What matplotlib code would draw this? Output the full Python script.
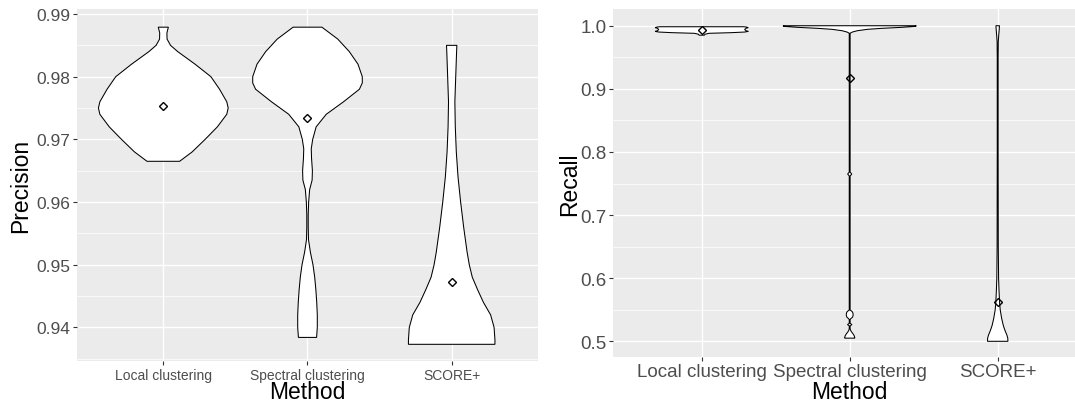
import matplotlib
matplotlib.use("Agg")
import matplotlib.pyplot as plt
import numpy as np

plt.rcParams["font.family"] = ["Liberation Sans", "DejaVu Sans"]

# ---------------- data ----------------
methods = ["Local clustering", "Spectral clustering", "SCORE+"]

# Precision violins: y levels and half-widths (category units)
prec_local_y = [0.9665, 0.968, 0.970, 0.972, 0.974, 0.975, 0.976, 0.978, 0.980, 0.982, 0.984, 0.985, 0.986, 0.987, 0.9879]
prec_local_w = [0.113, 0.20, 0.29, 0.375, 0.44, 0.45, 0.44, 0.39, 0.33, 0.22, 0.10, 0.05, 0.026, 0.025, 0.035]

prec_spec_y = [0.9384, 0.940, 0.942, 0.944, 0.946, 0.948, 0.950, 0.952, 0.954, 0.956, 0.958, 0.960, 0.962,
               0.9635, 0.965, 0.967, 0.9685, 0.970, 0.972, 0.974, 0.976, 0.978, 0.979, 0.980, 0.982, 0.984, 0.986, 0.9879]
prec_spec_w = [0.063, 0.068, 0.068, 0.064, 0.058, 0.050, 0.038, 0.020, 0.007, 0.005, 0.005, 0.008, 0.015,
               0.032, 0.034, 0.028, 0.026, 0.036, 0.06, 0.13, 0.25, 0.36, 0.38, 0.38, 0.35, 0.29, 0.21, 0.10]

prec_score_y = [0.9373, 0.938, 0.940, 0.942, 0.944, 0.946, 0.948, 0.950, 0.952, 0.956, 0.960, 0.964, 0.968,
                0.972, 0.976, 0.980, 0.984, 0.985]
prec_score_w = [0.30, 0.30, 0.294, 0.27, 0.22, 0.18, 0.143, 0.122, 0.107, 0.083, 0.062, 0.044, 0.032,
                0.025, 0.022, 0.028, 0.034, 0.036]

prec_means = [0.9754, 0.9734, 0.9472]

# Recall violins
rec_local_y = [0.985, 0.9865, 0.988, 0.989, 0.990, 0.991, 0.992, 0.994, 0.996, 0.997, 0.998, 0.9984]
rec_local_w = [0.018, 0.022, 0.05, 0.2, 0.29, 0.315, 0.30, 0.29, 0.30, 0.315, 0.30, 0.28]

rec_spec_y = [0.505, 0.506, 0.509, 0.512, 0.515, 0.518, 0.5205, 0.5245, 0.5265, 0.5285, 0.531, 0.5345,
              0.536, 0.538, 0.540, 0.543, 0.546, 0.548, 0.5495, 0.552, 0.762, 0.765, 0.768, 0.988,
              0.9884, 0.990, 0.9921, 0.9943, 0.9959, 0.9975, 0.999, 1.0]
rec_spec_w = [0.034, 0.034, 0.030, 0.022, 0.012, 0.005, 0.003, 0.003, 0.015, 0.003, 0.003, 0.003,
              0.008, 0.018, 0.022, 0.023, 0.020, 0.012, 0.003, 0.003, 0.003, 0.014, 0.003, 0.003,
              0.005, 0.018, 0.052, 0.12, 0.22, 0.356, 0.446, 0.45]

rec_score_y = [0.5, 0.505, 0.51, 0.515, 0.52, 0.525, 0.53, 0.535, 0.54, 0.55, 0.56, 0.57, 0.58, 0.60,
               0.65, 0.80, 0.95, 0.975, 0.985, 0.993, 1.0]
rec_score_w = [0.069, 0.068, 0.062, 0.053, 0.045, 0.038, 0.033, 0.028, 0.024, 0.017, 0.013, 0.011, 0.009,
               0.006, 0.004, 0.003, 0.003, 0.004, 0.007, 0.010, 0.012]

rec_means = [0.9937, 0.9166, 0.5625]

prec_ticks = [0.94, 0.95, 0.96, 0.97, 0.98, 0.99]
prec_tick_labels = ["0.94", "0.95", "0.96", "0.97", "0.98", "0.99"]
rec_ticks = [0.5, 0.6, 0.7, 0.8, 0.9, 1.0]
rec_tick_labels = ["0.5", "0.6", "0.7", "0.8", "0.9", "1.0"]

# ---------------- figure ----------------
W, H = 1075, 406
fig = plt.figure(figsize=(W / 100, H / 100), dpi=100)

BG = "#EBEBEB"
TXT = "#4D4D4D"


def px_axes(x0, x1, ytop, ybot):
    return fig.add_axes([x0 / W, 1 - ybot / H, (x1 - x0) / W, (ybot - ytop) / H])


def violin(ax, cx, ys, ws):
    ys = np.asarray(ys)
    ws = np.asarray(ws)
    xs = np.concatenate([cx - ws, (cx + ws)[::-1]])
    yy = np.concatenate([ys, ys[::-1]])
    ax.fill(xs, yy, facecolor="white", edgecolor="black", linewidth=0.75, zorder=3)


def style(ax, yticks, ylabels, ylim, xfont, yfont):
    ax.set_facecolor(BG)
    for s in ax.spines.values():
        s.set_visible(False)
    ax.set_xlim(0.4, 3.6)
    ax.set_ylim(*ylim)
    ax.set_xticks([1, 2, 3])
    ax.set_xticklabels(methods, fontsize=xfont, color=TXT)
    ax.set_yticks(yticks)
    ax.set_yticklabels(ylabels, fontsize=yfont, color=TXT)
    minors = [(a + b) / 2 for a, b in zip(yticks[:-1], yticks[1:])]
    step = yticks[1] - yticks[0]
    minors = [yticks[0] - step / 2] + minors + [yticks[-1] + step / 2]
    minors = [m for m in minors if ylim[0] <= m <= ylim[1]]
    ax.set_yticks(minors, minor=True)
    ax.tick_params(which="minor", length=0)
    ax.tick_params(which="major", length=3.0, width=0.8, color="#333333", pad=1.5)
    ax.grid(which="major", color="white", linewidth=1.0)
    ax.grid(which="minor", axis="y", color="white", linewidth=0.5)
    ax.set_axisbelow(True)


# Left panel: Precision
ax1 = px_axes(76.8, 538.2, 10, 362.3)
style(ax1, prec_ticks, prec_tick_labels, (0.93459, 0.9908), 10, 12.5)
violin(ax1, 1, prec_local_y, prec_local_w)
violin(ax1, 2, prec_spec_y, prec_spec_w)
violin(ax1, 3, prec_score_y, prec_score_w)
ax1.plot([1, 2, 3], prec_means, linestyle="none", marker="D", markersize=4.2,
         markerfacecolor="none", markeredgecolor="black", markeredgewidth=1.0, zorder=4)

# Right panel: Recall
ax2 = px_axes(612.9, 1086.5, 10, 357.7)
style(ax2, rec_ticks, rec_tick_labels, (0.4756, 1.0265), 13.5, 13.5)
violin(ax2, 1, rec_local_y, rec_local_w)
violin(ax2, 2, rec_spec_y, rec_spec_w)
violin(ax2, 3, rec_score_y, rec_score_w)
ax2.plot([1, 2, 3], rec_means, linestyle="none", marker="D", markersize=4.2,
         markerfacecolor="none", markeredgecolor="black", markeredgewidth=1.0, zorder=4)

# Axis titles
fig.text(307.5 / W, 1 - 399 / H, "Method", ha="center", va="baseline", fontsize=16.5, color="black")
fig.text(849.5 / W, 1 - 399 / H, "Method", ha="center", va="baseline", fontsize=16.5, color="black")
fig.text(27.5 / W, 1 - 186 / H, "Precision", rotation=90, rotation_mode="anchor",
         ha="center", va="baseline", fontsize=16.5, color="black")
fig.text(576 / W, 1 - 184 / H, "Recall", rotation=90, rotation_mode="anchor",
         ha="center", va="baseline", fontsize=16.5, color="black")

fig.savefig("out.png", dpi=100, facecolor="white")
